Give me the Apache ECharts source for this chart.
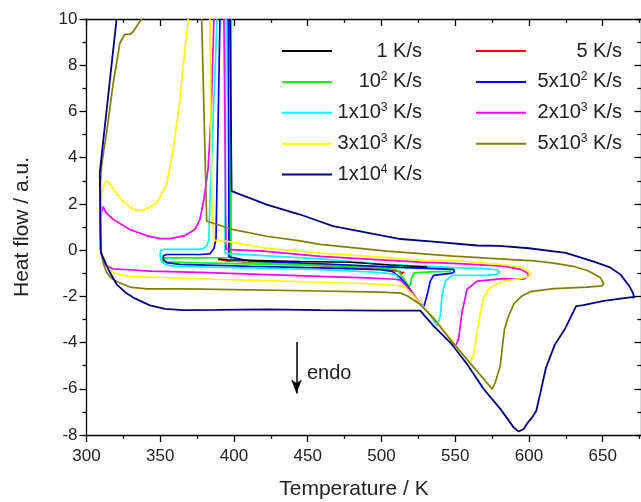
<!DOCTYPE html>
<html>
<head>
<meta charset="utf-8">
<title>Heat flow</title>
<script src="https://cdn.jsdelivr.net/npm/echarts@6/dist/echarts.min.js"></script>
<style>
html, body {margin:0; padding:0; background:#fff;}
#main {width:641px; height:502px;}
</style>
</head>
<body>
<div id="main"></div>
<script>
var font_name = 'Liberation Sans';

// heating rates (legend names, ^ marks the superscript digit)
var rate_names = ['1 K/s', '5 K/s', '10^2 K/s', '5x10^2 K/s', '1x10^3 K/s', '2x10^3 K/s', '3x10^3 K/s', '5x10^3 K/s', '1x10^4 K/s'];
var rate_colors = ['#000000', '#ff0000', '#00ff00', '#0000ff', '#00ffff', '#ff00ff', '#ffff00', '#808000', '#000080'];
var legend_col1 = ['1 K/s', '10^2 K/s', '1x10^3 K/s', '3x10^3 K/s', '1x10^4 K/s'];
var legend_col2 = ['5 K/s', '5x10^2 K/s', '2x10^3 K/s', '5x10^3 K/s'];

// [temperature K, heat flow a.u.], each curve is one loop
var curve_1 = [[389.2,-0.38],[395.9,-0.42],[444.8,-0.49],[478.8,-0.53],[505.9,-0.64],[531,-0.73]];

var curve_5 = [[389.5,-0.40],[396,-0.47],[455,-0.66],[505,-0.85],[512.5,-0.93],[514,-1.0],[515.5,-0.95]];

var curve_1e2 = [[398.3,10],[396.9,-0.32],[376.9,-0.34],[353.2,-0.34],[351.5,-0.42],[353.2,-0.51],[376.9,-0.55],
  [458.4,-0.66],[499.1,-0.77],[509.3,-0.83],[511.4,-0.90],[515.4,-1.26],[518.5,-1.57],[519.8,-1.48],[520.5,-1.18],
  [522.2,-0.98],[533.1,-0.94],[546.7,-0.92],[547.6,-0.85],[546.7,-0.79],[512.7,-0.75],[458.4,-0.62],[404.2,-0.49],
  [398,-0.47],[398,10]];

var curve_5e2 = [[390.5,10],[387.8,0.46],[386.4,0.07],[383.7,-0.16],[376.9,-0.19],[354.3,-0.19],[352.1,-0.25],
  [352.1,-0.40],[354.3,-0.54],[363.3,-0.62],[410.9,-0.70],[458.4,-0.77],[499.1,-0.85],[507.3,-0.92],[512.7,-1.18],
  [519.5,-1.70],[524.9,-2.21],[528.5,-2.49],[530.8,-1.99],[533.1,-1.34],[535.3,-1.09],[546.7,-1.01],[549.4,-0.96],
  [550,-0.90],[548.9,-0.83],[512.7,-0.75],[458.4,-0.59],[410.9,-0.47],[396.6,-0.29],[396.1,10]];

var curve_1e3 = [[388.5,10],[385.1,4.35],[383.7,2.19],[383.0,0.46],[381.7,0.2],[379,0.05],[374.2,0.03],[352,0.03],
  [350.1,-0.03],[350,-0.27],[351.1,-0.51],[353.8,-0.64],[360,-0.70],[410.9,-0.77],[458.4,-0.85],[492.3,-0.94],
  [508,-1.03],[510,-1.09],[516.1,-1.52],[526.3,-2.27],[533.1,-2.82],[537.6,-3.28],[539.9,-2.85],[541.0,-1.99],
  [543.3,-1.34],[547.8,-1.09],[571.6,-1.09],[578.3,-1.05],[580.1,-0.95],[578.3,-0.86],[571.6,-0.80],[548.9,-0.76],
  [500,-0.6],[458.4,-0.38],[420,-0.24],[393.9,-0.14],[394.6,10]];

var curve_2e3 = [[386.4,10],[384.4,5.64],[382.4,3.48],[379.6,2.19],[376.9,1.33],[373.5,0.89],[366.7,0.63],[356.6,0.50],
  [349.8,0.50],[340.7,0.63],[329.4,0.89],[318.1,1.33],[313.1,1.63],[311.3,1.89],[310.1,1.82],[309.5,1.50],[309.5,0.03],
  [311.1,-0.40],[313.1,-0.66],[317.9,-0.81],[329.4,-0.85],[343,-0.91],[376.9,-0.96],[417.7,-1.05],[458.4,-1.14],
  [490.1,-1.2],[509.3,-1.26],[513,-1.3],[516.1,-1.5],[520,-1.78],[526.3,-2.31],[535.3,-2.92],[546.7,-3.87],[550.0,-4.17],
  [552.3,-3.85],[554.6,-2.70],[558,-1.70],[564.8,-1.34],[582.8,-1.23],[596.4,-1.26],[599.8,-1.12],[598.7,-0.98],
  [594.2,-0.83],[582.8,-0.69],[548.9,-0.57],[526.3,-0.52],[458.4,-0.27],[420,-0.04],[394.6,0.03],[393.2,10]];

var curve_3e3 = [[369.0,10],[366.7,8.66],[363.3,6.5],[358.8,4.35],[354.3,2.84],[347.5,2.02],[338.4,1.71],[331.6,1.76],
  [324.8,2.1],[318.1,2.66],[314.7,2.98],[312.4,2.92],[310.2,2.40],[309.5,1.0],[309.7,0.0],[311,-0.3],[314.7,-0.76],
  [318.1,-0.98],[329.4,-1.15],[352,-1.19],[386,-1.26],[422.2,-1.32],[458.4,-1.39],[490,-1.45],[509,-1.52],[516,-1.6],
  [520,-1.85],[526.3,-2.31],[535.3,-2.92],[546.7,-3.85],[555,-4.5],[560.2,-4.93],[562.5,-4.5],[565.9,-3.13],
  [569.2,-2.05],[573.8,-1.62],[582.8,-1.34],[594.2,-1.23],[599.8,-1.15],[601,-1.05],[598.7,-0.86],[594.2,-0.72],
  [580,-0.62],[571.6,-0.57],[553.5,-0.47],[526.3,-0.44],[500,-0.3],[458.4,-0.13],[420,0.1],[397.4,0.36],[386.4,0.43],
  [385,2],[383.7,10]];

var curve_5e3 = [[337.3,10],[331.6,9.45],[329.4,9.34],[326.0,9.34],[322.6,8.95],[318.1,7.22],[313.6,5.07],[310.5,3.8],
  [309.5,3.0],[309.3,0.75],[309.7,0.0],[311.5,-0.6],[313.6,-0.95],[316.5,-1.2],[320.4,-1.36],[329.4,-1.6],[340.7,-1.68],
  [365.6,-1.68],[400,-1.71],[458.4,-1.77],[500,-1.82],[513,-1.86],[518,-2.0],[526.3,-2.35],[535.3,-2.95],[546.7,-3.87],
  [560.2,-4.9],[569,-5.55],[575.0,-6.01],[577.2,-5.72],[580.6,-5.0],[582.3,-4.0],[583.5,-3.4],[586.2,-2.85],[590,-2.3],
  [595,-2.0],[601,-1.8],[616.8,-1.67],[639.5,-1.60],[649.6,-1.55],[650.7,-1.44],[648.5,-1.2],[644,-1.02],[639.5,-0.88],
  [630,-0.7],[616.8,-0.56],[604.3,-0.47],[594.2,-0.43],[571.6,-0.35],[548.9,-0.26],[503.7,-0.04],[458.4,0.25],
  [444.8,0.40],[422.2,0.6],[399.5,0.89],[381.5,1.25],[378.1,10]];

var curve_1e4 = [[320.4,10],[309.0,3.35],[309.7,-0.10],[312.4,-0.49],[315.8,-0.96],[320.4,-1.48],[327.2,-1.87],
  [332.8,-2.09],[343.0,-2.39],[353.2,-2.54],[365.6,-2.60],[388.3,-2.59],[422.2,-2.56],[458.4,-2.60],[500,-2.62],
  [526.3,-2.62],[535.3,-3.28],[546.7,-4.0],[558,-4.93],[569.3,-6.01],[580.6,-6.87],[589.6,-7.67],[593.0,-7.85],
  [596.4,-7.74],[598.6,-7.52],[602,-7.25],[605,-6.95],[607.7,-6.2],[611.5,-5.1],[617.5,-4.1],[624.5,-3.4],
  [630.3,-2.65],[632,-2.42],[637,-2.38],[650.7,-2.2],[662,-2.1],[670,-2.03],[671.5,-2.06],[670.5,-1.85],[668,-1.55],
  [662,-1.05],[655,-0.75],[644,-0.5],[625,-0.12],[600,0.08],[580,0.18],[565,0.2],[533,0.38],[513,0.48],[512.5,0.56],
  [467.2,1.04],[444.8,1.54],[422.2,1.97],[398.4,2.55],[397.3,10]];

// endo arrow, from top to head
var endo_arrow = [[442.4,-3.98],[442.4,-6.2]];

var myChart = echarts.init(document.getElementById('main'));

function legend_text(name) {
	var p = name.split('^');
	if (p.length == 1) return '{t|' + name + '}';
	return '{t|' + p[0] + '}{s|' + p[1].charAt(0) + '}{t|' + p[1].slice(1) + '}';
}

function make_legend(names, left, text_width) {
	return {
		data: names,
		orient: 'vertical',
		left: left,
		top: 41,
		padding: 0,
		itemGap: 9.9,
		itemWidth: 50,
		itemHeight: 2,
		icon: 'rect',
		selectedMode: false,
		formatter: legend_text,
		textStyle: {
			width: text_width,
			color: '#222',
			fontFamily: font_name,
			fontSize: 20,
			rich: {
				t: {fontSize: 20, fontFamily: font_name, color: '#222', lineHeight: 22, align: 'right'},
				s: {fontSize: 12, fontFamily: font_name, color: '#222', lineHeight: 16, verticalAlign: 'top', align: 'right'}
			}
		}
	};
}

function make_line(name, color, pts, width) {
	return {
		name: name,
		type: 'line',
		data: pts,
		symbol: 'none',
		showSymbol: false,
		clip: true,
		color: color,
		lineStyle: {color: color, width: width},
		itemStyle: {color: color},
		emphasis: {disabled: true},
		animation: false
	};
}

var axis_line = {color: '#000', width: 1.3};

var series_list = [
	make_line(rate_names[1], rate_colors[1], curve_5, 1.7),
	make_line(rate_names[2], rate_colors[2], curve_1e2, 1.7),
	make_line(rate_names[3], rate_colors[3], curve_5e2, 1.7),
	make_line(rate_names[4], rate_colors[4], curve_1e3, 1.7),
	make_line(rate_names[5], rate_colors[5], curve_2e3, 1.7),
	make_line(rate_names[6], rate_colors[6], curve_3e3, 1.7),
	make_line(rate_names[7], rate_colors[7], curve_5e3, 1.7),
	make_line(rate_names[8], rate_colors[8], curve_1e4, 1.8),
	make_line(rate_names[0], rate_colors[0], curve_1, 1.5)
];
// the arrow is hung on the black curve
series_list[8].markLine = {
	silent: true,
	animation: false,
	symbol: ['none', 'arrow'],
	symbolSize: [8, 14],
	label: {show: false},
	lineStyle: {color: '#000', width: 1.5, type: 'solid'},
	data: [[{coord: endo_arrow[0]}, {coord: endo_arrow[1]}]]
};

var option = {
	animation: false,
	backgroundColor: '#fff',
	grid: {left: 86.5, right: -35.4, top: 19, bottom: 67, containLabel: false, outerBoundsMode: 'none'},
	legend: [make_legend(legend_col1, 282, 85), make_legend(legend_col2, 476, 91)],
	xAxis: [
		{
			type: 'value', position: 'bottom', min: 300, max: 700, interval: 50,
			axisLine: {onZero: false, lineStyle: axis_line},
			axisTick: {inside: false, length: 7, lineStyle: axis_line},
			minorTick: {show: true, splitNumber: 2, length: 4, lineStyle: axis_line},
			splitLine: {show: false},
			axisLabel: {margin: 13, fontSize: 17, fontFamily: font_name, color: '#222', showMaxLabel: false},
			name: 'Temperature / K', nameLocation: 'middle', nameGap: 44, nameMoveOverlap: false,
			nameTextStyle: {fontSize: 21, fontFamily: font_name, color: '#222', padding: [0, 55, 0, 0]}
		},
		{
			type: 'value', position: 'top', min: 300, max: 700, interval: 50,
			axisLine: {onZero: false, lineStyle: axis_line},
			axisTick: {inside: true, length: 7, lineStyle: axis_line},
			minorTick: {show: true, splitNumber: 2, length: 4, lineStyle: axis_line},
			splitLine: {show: false},
			axisLabel: {show: false}
		}
	],
	yAxis: [
		{
			type: 'value', position: 'left', min: -8, max: 10, interval: 2,
			axisLine: {onZero: false, lineStyle: axis_line},
			axisTick: {inside: false, length: 7, lineStyle: axis_line},
			minorTick: {show: true, splitNumber: 2, length: 4, lineStyle: axis_line},
			splitLine: {show: false},
			axisLabel: {margin: 9, fontSize: 17, fontFamily: font_name, color: '#222'},
			name: 'Heat flow / a.u.', nameLocation: 'middle', nameGap: 54, nameMoveOverlap: false,
			nameTextStyle: {fontSize: 21, fontFamily: font_name, color: '#222'}
		},
		{
			type: 'value', position: 'right', offset: -35, min: -8, max: 10, interval: 2,
			axisLine: {onZero: false, lineStyle: axis_line},
			axisTick: {inside: true, length: 7, lineStyle: axis_line},
			minorTick: {show: true, splitNumber: 2, length: 4, lineStyle: axis_line},
			splitLine: {show: false},
			axisLabel: {show: false}
		}
	],
	graphic: [
		{type: 'text', left: 307, top: 363, silent: true,
		 style: {text: 'endo', fontSize: 20, fontFamily: font_name, fill: '#222'}}
	],
	series: series_list
};

myChart.setOption(option);
</script>
</body>
</html>
